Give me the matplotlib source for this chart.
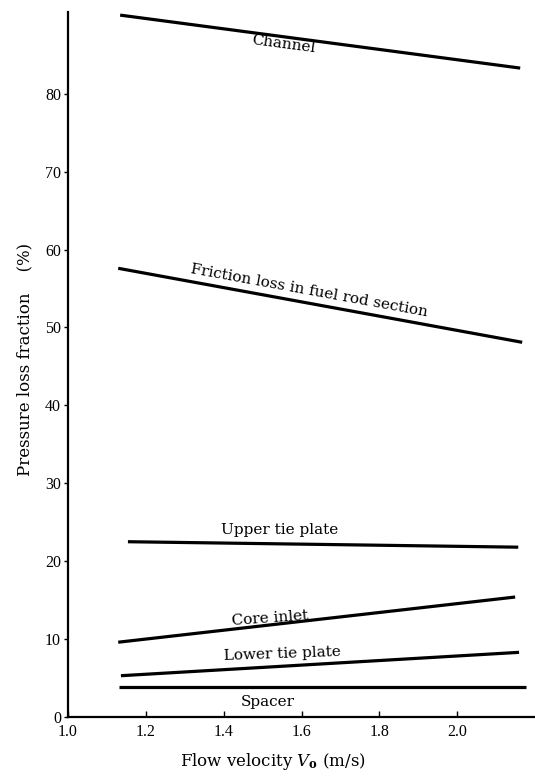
import numpy as np
import matplotlib
matplotlib.use('Agg')
import matplotlib.pyplot as plt

# 流速ごとの圧力損失割合 (%)
channel_v = [1.134, 2.162]
channel = [90.1, 83.3]
friction_v = [1.129, 2.167]
friction = [57.6, 48.1]
upper_tie_v = [1.154, 2.157]
upper_tie = [22.5, 21.8]
core_inlet_v = [1.129, 2.149]
core_inlet = [9.6, 15.4]
lower_tie_v = [1.136, 2.159]
lower_tie = [5.3, 8.3]
spacer_v = [1.130, 2.177]
spacer = [3.85, 3.85]

xticks = [1.0, 1.2, 1.4, 1.6, 1.8, 2.0]
xticklabels = ['1.0', '1.2', '1.4', '1.6', '1.8', '2.0']
yticks = [0, 10, 20, 30, 40, 50, 60, 70, 80]

plt.rcParams['font.family'] = ['DejaVu Serif']
plt.rcParams['mathtext.fontset'] = 'dejavuserif'

fig = plt.figure(figsize=(5.35, 7.77), dpi=100)
ax = fig.add_axes([68 / 535, 60 / 777, 467 / 535, 705 / 777])
ax.set_xlim(1.0, 2.2)
ax.set_ylim(0, 90.5)

series = [
    (channel_v, channel),
    (friction_v, friction),
    (upper_tie_v, upper_tie),
    (core_inlet_v, core_inlet),
    (lower_tie_v, lower_tie),
    (spacer_v, spacer),
]
for xs, ys in series:
    ax.plot(xs, ys, color='black', lw=2.3, solid_capstyle='butt')


def slope_deg(xs, ys):
    # 線の画面上の傾きに合わせてラベルを回転
    p = ax.transData.transform(np.column_stack([xs, ys]))
    return np.degrees(np.arctan2(p[1, 1] - p[0, 1], p[1, 0] - p[0, 0]))


lab = dict(ha='center', va='center', fontsize=11, rotation_mode='anchor')
ax.text(1.553, 86.3, 'Channel', rotation=slope_deg(channel_v, channel), **lab)
ax.text(1.62, 54.7, 'Friction loss in fuel rod section',
        rotation=slope_deg(friction_v, friction), **lab)
ax.text(1.545, 24.0, 'Upper tie plate', **lab)
ax.text(1.519, 12.7, 'Core inlet', rotation=4, **lab)
ax.text(1.55, 8.1, 'Lower tie plate', rotation=2, **lab)
ax.text(1.514, 1.9, 'Spacer', **lab)

for side in ['top', 'right']:
    ax.spines[side].set_visible(False)
for side in ['left', 'bottom']:
    ax.spines[side].set_linewidth(1.6)

ax.set_xticks(xticks)
ax.set_xticklabels(xticklabels)
ax.set_yticks(yticks)
ax.tick_params(axis='x', direction='in', length=4, width=1, pad=5)
ax.tick_params(axis='y', direction='out', length=3, width=1, pad=2)
for t in ax.get_xticklabels() + ax.get_yticklabels():
    t.set_fontfamily('Liberation Serif')
    t.set_fontsize(11.5)

fig.text(273 / 535, 1 - 761 / 777, r'Flow velocity $V_{\mathbf{o}}$ (m/s)',
         ha='center', va='center', fontsize=12)
fig.text(25 / 535, 1 - 359 / 777, 'Pressure loss fraction    (%)',
         ha='center', va='center', rotation=90, fontsize=12)

fig.savefig('out.png', dpi=100)
